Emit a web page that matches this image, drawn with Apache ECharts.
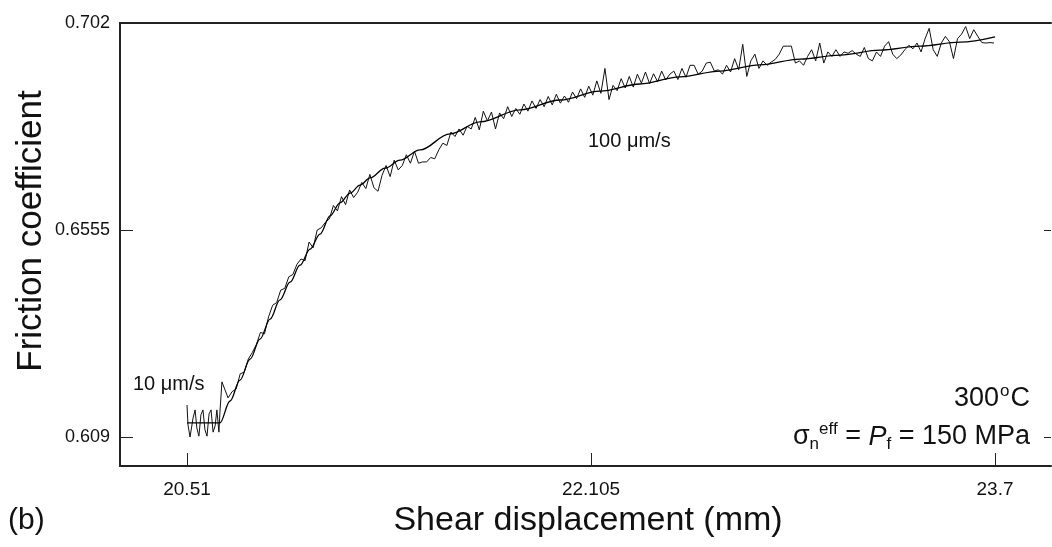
<!DOCTYPE html>
<html><head><meta charset="utf-8">
<script src="https://cdn.jsdelivr.net/npm/echarts@6/dist/echarts.min.js"></script>
<style>html,body{margin:0;padding:0;background:#fff}#c{width:1052px;height:547px}</style>
</head><body><div id="c"></div>
<script>
// ---- data ----
const xTickValues = [20.51, 22.105, 23.7];
const yTickValues = [0.609, 0.6555, 0.702];
const xRange = [20.2455, 23.921];
const yRange = [0.6025, 0.702];

// fitted model curve
const fitCurve = [
  [20.510,0.6122],[20.640,0.6122],[20.680,0.6171],[20.719,0.6218],[20.759,0.6265],[20.798,0.6310],
  [20.838,0.6355],[20.877,0.6398],[20.917,0.6438],[20.956,0.6476],[20.996,0.6512],[21.035,0.6546],
  [21.075,0.6587],[21.114,0.6616],[21.154,0.6638],[21.193,0.6656],[21.233,0.6672],[21.292,0.6694],
  [21.351,0.6712],[21.430,0.6735],[21.548,0.6771],[21.667,0.6798],[21.825,0.6825],[21.983,0.6847],
  [22.140,0.6867],[22.298,0.6883],[22.456,0.6899],[22.614,0.6912],[22.772,0.6926],[22.930,0.6939],
  [23.088,0.6948],[23.246,0.6959],[23.404,0.6968],[23.562,0.6977],[23.700,0.6989]
];

// measured friction record
const measured = [
  [20.510,0.6162],[20.514,0.6117],[20.522,0.6090],[20.534,0.6133],[20.542,0.6151],[20.549,0.6110],
  [20.557,0.6092],[20.565,0.6140],[20.573,0.6151],[20.581,0.6106],[20.589,0.6092],[20.597,0.6142],
  [20.605,0.6151],[20.613,0.6101],[20.621,0.6115],[20.628,0.6151],[20.636,0.6101],[20.640,0.6146],
  [20.648,0.6214],[20.660,0.6196],
  [20.672,0.6178],[20.688,0.6192],[20.704,0.6198],[20.720,0.6232],[20.736,0.6236],[20.752,0.6265],
  [20.768,0.6280],[20.784,0.6298],[20.800,0.6325],[20.816,0.6322],[20.832,0.6360],[20.848,0.6386],
  [20.864,0.6392],[20.880,0.6420],[20.896,0.6424],[20.912,0.6450],[20.928,0.6455],[20.944,0.6478],
  [20.960,0.6490],[20.976,0.6486],[20.992,0.6528],[21.008,0.6515],[21.024,0.6555],[21.040,0.6560],
  [21.056,0.6572],[21.072,0.6580],[21.088,0.6610],[21.104,0.6598],[21.120,0.6630],[21.136,0.6612],
  [21.152,0.6645],[21.168,0.6628],[21.184,0.6640],[21.200,0.6662],[21.216,0.6648],[21.232,0.6680],
  [21.248,0.6650],[21.264,0.6642],[21.280,0.6678],[21.296,0.6700],[21.312,0.6675],[21.328,0.6712],
  [21.344,0.6690],[21.360,0.6700],[21.376,0.6724],[21.392,0.6705],[21.408,0.6732],[21.424,0.6705],
  [21.440,0.6708],[21.456,0.6708],[21.472,0.6718],[21.488,0.6715],[21.504,0.6735],[21.520,0.6750],
  [21.536,0.6745],[21.552,0.6775],[21.568,0.6765],[21.584,0.6782],[21.600,0.6768],[21.616,0.6788],
  [21.632,0.6782],[21.648,0.6808],[21.664,0.6780],[21.680,0.6822],[21.696,0.6800],[21.712,0.6820],
  [21.728,0.6782],[21.744,0.6818],[21.760,0.6805],[21.776,0.6832],[21.792,0.6810],[21.808,0.6828],
  [21.824,0.6815],[21.840,0.6838],[21.856,0.6822],[21.872,0.6845],[21.888,0.6828],[21.904,0.6848],
  [21.920,0.6832],[21.936,0.6855],[21.952,0.6836],[21.968,0.6860],[21.984,0.6840],[22.000,0.6856],
  [22.016,0.6842],[22.032,0.6865],[22.048,0.6850],[22.064,0.6872],[22.080,0.6853],[22.096,0.6878],
  [22.112,0.6858],[22.128,0.6890],[22.144,0.6862],[22.160,0.6918],[22.176,0.6848],[22.192,0.6880],
  [22.208,0.6868],[22.224,0.6895],[22.240,0.6874],[22.256,0.6900],[22.272,0.6876],[22.288,0.6905],
  [22.304,0.6885],[22.320,0.6910],[22.336,0.6884],[22.352,0.6906],[22.368,0.6888],[22.384,0.6912],
  [22.400,0.6892],[22.416,0.6905],[22.432,0.6912],[22.448,0.6893],[22.464,0.6918],[22.480,0.6898],
  [22.496,0.6925],[22.512,0.6925],[22.528,0.6905],[22.544,0.6912],[22.560,0.6930],[22.576,0.6932],
  [22.592,0.6912],[22.608,0.6915],[22.624,0.6905],[22.640,0.6925],[22.656,0.6910],[22.672,0.6940],
  [22.688,0.6915],[22.704,0.6972],[22.720,0.6900],[22.736,0.6935],[22.752,0.6950],[22.768,0.6918],
  [22.784,0.6935],[22.800,0.6925],[22.816,0.6932],[22.832,0.6938],[22.848,0.6950],[22.864,0.6968],
  [22.880,0.6968],[22.896,0.6968],[22.912,0.6930],[22.928,0.6935],[22.944,0.6925],[22.960,0.6945],
  [22.976,0.6960],[22.992,0.6935],[23.008,0.6975],[23.024,0.6930],[23.040,0.6955],[23.056,0.6945],
  [23.072,0.6960],[23.088,0.6945],[23.104,0.6955],[23.120,0.6952],[23.136,0.6958],[23.152,0.6950],
  [23.168,0.6945],[23.184,0.6965],[23.200,0.6940],[23.216,0.6935],[23.232,0.6955],[23.248,0.6945],
  [23.264,0.6968],[23.280,0.6978],[23.296,0.6950],[23.312,0.6940],[23.328,0.6948],[23.344,0.6960],
  [23.360,0.6970],[23.376,0.6962],[23.392,0.6975],[23.408,0.6955],[23.424,0.6985],[23.440,0.7008],
  [23.456,0.6960],[23.472,0.6945],[23.488,0.6975],[23.504,0.6990],[23.520,0.6978],[23.536,0.6940],
  [23.552,0.6985],[23.568,0.6995],[23.584,0.7012],[23.600,0.6985],[23.616,0.7005],[23.632,0.6990],
  [23.648,0.6976],[23.664,0.6975],[23.680,0.6976],[23.696,0.6975]
];

const yAxisTitle = 'Friction coefficient';
const xAxisTitle = 'Shear displacement (mm)';
const panelLabel = '(b)';
const rateLow = '10 μm/s';
const rateHigh = '100 μm/s';

// ---- chart ----
const FONT = '"Liberation Sans", Arial, Helvetica, sans-serif';
const AX = '#222';
const chart = echarts.init(document.getElementById('c'), null, {renderer: 'canvas'});
chart.setOption({
  animation: false,
  backgroundColor: '#fff',
  grid: {left: 120, right: 1, top: 23, bottom: 81},
  xAxis: [{
    type: 'value', min: xRange[0], max: xRange[1], position: 'bottom',
    axisLine: {show: true, lineStyle: {color: AX, width: 2}},
    axisTick: {show: true, inside: true, length: 13, customValues: xTickValues, lineStyle: {color: AX, width: 1}},
    axisLabel: {show: true, customValues: xTickValues, margin: 14, color: '#111', fontSize: 19, fontFamily: FONT,
      formatter: v => String(v)},
    splitLine: {show: false}
  }, {
    type: 'value', min: xRange[0], max: xRange[1], position: 'top',
    axisLine: {show: true, onZero: false, lineStyle: {color: AX, width: 2}},
    axisTick: {show: false}, axisLabel: {show: false}, splitLine: {show: false}
  }],
  yAxis: [{
    type: 'value', min: yRange[0], max: yRange[1], position: 'left',
    axisLine: {show: true, lineStyle: {color: AX, width: 2}},
    axisTick: {show: true, inside: true, length: 13, customValues: yTickValues, lineStyle: {color: AX, width: 1}},
    axisLabel: {show: true, customValues: yTickValues, margin: 10, color: '#111', fontSize: 18, fontFamily: FONT,
      formatter: v => String(v)},
    splitLine: {show: false}
  }, {
    type: 'value', min: yRange[0], max: yRange[1], position: 'right',
    axisLine: {show: false},
    axisTick: {show: true, inside: true, length: 7, customValues: [0.609, 0.6555], lineStyle: {color: AX, width: 1}},
    axisLabel: {show: false}, splitLine: {show: false}
  }],
  series: [{
    type: 'line', data: measured, showSymbol: false, symbol: 'none',
    lineStyle: {color: '#111', width: 1}, z: 3
  }, {
    type: 'line', data: fitCurve, showSymbol: false, symbol: 'none', smooth: 0.35, smoothMonotone: 'x',
    lineStyle: {color: '#000', width: 1.3}, z: 4
  }],
  graphic: [
    {type: 'text', rotation: Math.PI/2, x: 31, y: 231,
      style: {text: yAxisTitle, font: '35px ' + FONT, fill: '#111', align: 'center', verticalAlign: 'middle'}},
    {type: 'text', x: 588, y: 521,
      style: {text: xAxisTitle, font: '34px ' + FONT, fill: '#111', align: 'center', verticalAlign: 'middle'}},
    {type: 'text', x: 8, y: 521,
      style: {text: panelLabel, font: '30px ' + FONT, fill: '#111', align: 'left', verticalAlign: 'middle'}},
    {type: 'text', x: 133, y: 384,
      style: {text: rateLow, font: '20px ' + FONT, fill: '#111', align: 'left', verticalAlign: 'middle'}},
    {type: 'text', x: 588, y: 141,
      style: {text: rateHigh, font: '20px ' + FONT, fill: '#111', align: 'left', verticalAlign: 'middle'}},
    {type: 'text', x: 1030, y: 397,
      style: {text: '{m|300}{s|o}{m|C}', align: 'right', verticalAlign: 'middle', fill: '#111',
        rich: {m: {fontSize: 27, fontFamily: FONT, lineHeight: 30, verticalAlign: 'bottom'},
               s: {fontSize: 17, fontFamily: FONT, lineHeight: 30, verticalAlign: 'top', padding: [1,1,0,1]}}}},
    {type: 'text', x: 1030, y: 437,
      style: {text: '{m|σ}{sb|n}{sp|eff}{m| = }{i|P}{sb|f}{m| = 150 MPa}', align: 'right', verticalAlign: 'middle', fill: '#111',
        rich: {m: {fontSize: 27, fontFamily: FONT, lineHeight: 32, verticalAlign: 'middle'},
               i: {fontSize: 27, fontFamily: FONT, fontStyle: 'italic', lineHeight: 32, verticalAlign: 'middle'},
               sb: {fontSize: 17, fontFamily: FONT, lineHeight: 17, verticalAlign: 'bottom'},
               sp: {fontSize: 17, fontFamily: FONT, lineHeight: 17, verticalAlign: 'top'}}}}
  ]
});
</script></body></html>
